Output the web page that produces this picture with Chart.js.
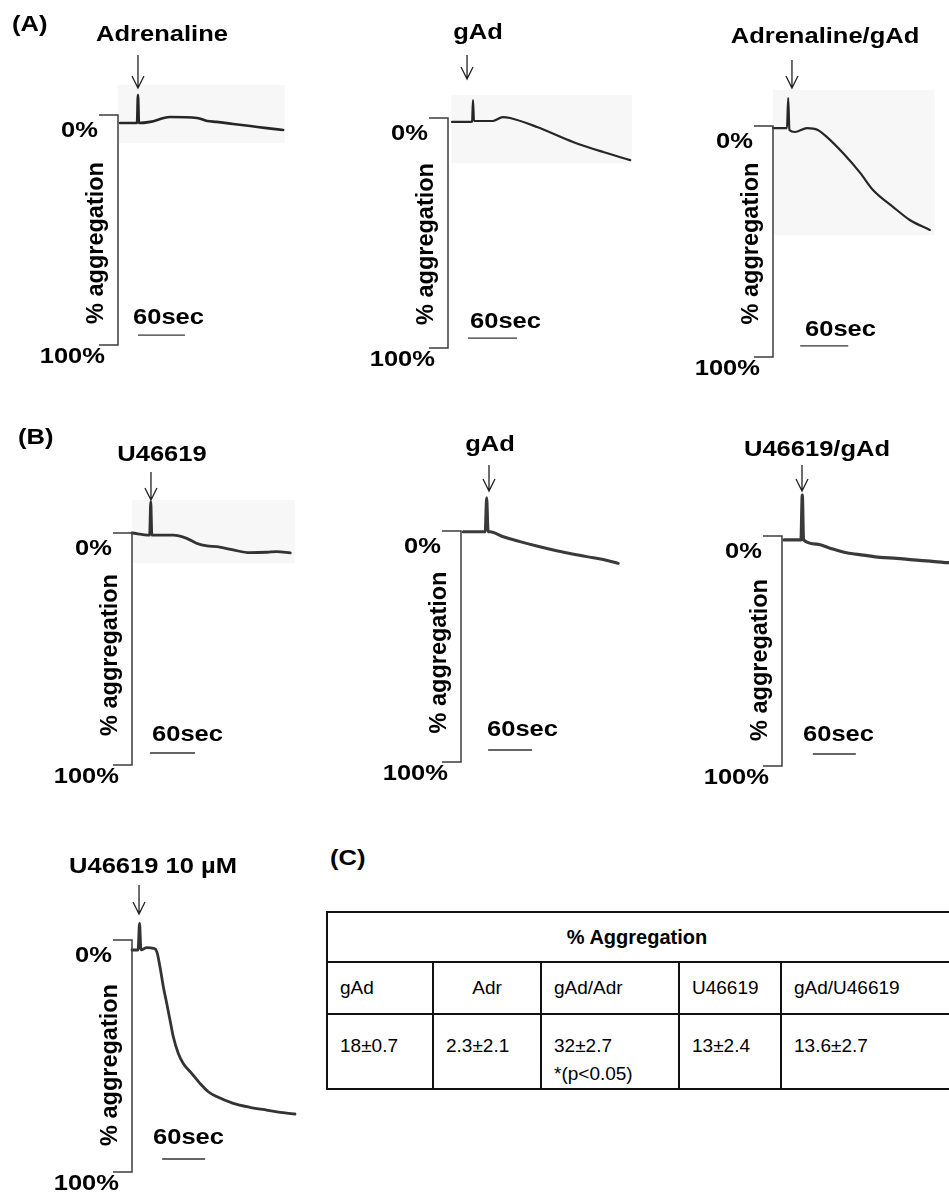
<!DOCTYPE html>
<html>
<head>
<meta charset="utf-8">
<script src="https://cdn.jsdelivr.net/npm/chart.js@4/dist/chart.umd.min.js"></script>
<style>
  html, body { margin: 0; padding: 0; background: #fff; }
  #page { position: relative; width: 949px; height: 1196px; overflow: hidden;
          font-family: "Liberation Sans", Arial, sans-serif; color: #000; }
  canvas.layer { position: absolute; left: 0; top: 0; }
  #tagC { position: absolute; left: 330px; top: 845px; font-weight: bold; font-size: 22px;
          transform: scaleX(1.16); transform-origin: left center; }
  #aggTable { position: absolute; left: 326px; top: 911px; width: 640px; border-collapse: collapse;
              table-layout: fixed; font-size: 19px; }
  #aggTable td, #aggTable th { border: 2px solid #111; padding: 0 0 0 12px; text-align: left;
                               white-space: nowrap; overflow: hidden; }
  #aggTable th { font-weight: bold; font-size: 20px; text-align: center; height: 48px; padding: 0 20px 0 0; }
  #aggTable tr.heads td { height: 50px; vertical-align: middle; }
  #aggTable tr.vals td { height: 55px; vertical-align: top; padding-top: 17px; line-height: 28px; }
  #aggTable td.centered { text-align: center; padding-left: 0; }
</style>
</head>
<body>
<div id="page">
  <div id="tagC">(C)</div>
  <table id="aggTable">
    <colgroup>
      <col style="width:106px"><col style="width:108px"><col style="width:138px"><col style="width:102px"><col style="width:186px">
    </colgroup>
    <tr><th colspan="5" id="aggTitle"></th></tr>
    <tr class="heads" id="headRow"></tr>
    <tr class="vals" id="valRow"></tr>
  </table>
  <canvas class="layer" id="cA1" width="949" height="1196"></canvas>
  <canvas class="layer" id="cA2" width="949" height="1196"></canvas>
  <canvas class="layer" id="cA3" width="949" height="1196"></canvas>
  <canvas class="layer" id="cB1" width="949" height="1196"></canvas>
  <canvas class="layer" id="cB2" width="949" height="1196"></canvas>
  <canvas class="layer" id="cB3" width="949" height="1196"></canvas>
  <canvas class="layer" id="cB4" width="949" height="1196"></canvas>
</div>
<script>
// Aggregation traces: time after start of recording (s) and % aggregation (0 = baseline, 100 = full)
const adrenalineTime = [2.6, 23, 24.3, 25.5, 26.8, 41, 66, 101, 114, 126, 147, 169, 190, 211];
const adrenalineAgg  = [3.5, 3.5, 3.5, -8.7, 3.5, 3.0, 0.9, 1.3, 2.6, 3.0, 3.9, 4.8, 5.7, 6.5];

const gadATime = [4.9, 28, 29.5, 30.6, 31.8, 55, 67, 76, 109, 153, 190, 223];
const gadAAgg  = [1.7, 1.7, 1.5, -7.8, 1.3, 1.3, -0.4, 0, 3.9, 10.4, 14.8, 18.3];

const adrGadTime = [0, 16, 17.5, 19, 20.5, 27.5, 42.5, 56, 67.5, 87.5, 109, 125, 150, 171, 196];
const adrGadAgg  = [0.9, 0.9, 0.9, -12.1, 1.7, 2.6, 0.9, 1.7, 4.8, 11.7, 20.3, 27.7, 35, 40.7, 45];

const u46619Time = [0, 23.5, 25, 26.5, 55, 73, 86, 100, 113, 135, 157, 180, 193, 211];
const u46619Agg  = [0, 0.9, -13.5, 0.9, 0.9, 2.3, 4.4, 5.6, 5.9, 7.3, 8.5, 8.3, 8.0, 8.6];

const gadBTime = [3.1, 33, 35, 37, 39.6, 57.7, 80.5, 103.3, 126, 148.7, 171.5, 194, 214.6];
const gadBAgg  = [0.3, 0.3, -14.4, 0.3, 0.3, 2.5, 4.6, 6.5, 8.2, 9.7, 11.1, 12.3, 14];

const u46619GadTime = [2.8, 26.5, 28.3, 30, 48.4, 67, 90.2, 113.4, 136.7, 160, 183, 206.4, 232, 255];
const u46619GadAgg  = [1.7, 1.7, -17.8, 1.7, 3.5, 5.3, 7.3, 8.3, 9.3, 9.7, 10.4, 10.9, 11.6, 12.2];

const u46619HighTime = [0, 8.5, 10.5, 12.5, 20.7, 29.9, 34.6, 39, 43.7, 48.4, 53, 57.6, 64.6, 71.5, 83.2, 94.8, 106.4, 118, 141.2, 164.5, 187.7, 211, 227.3];
const u46619HighAgg  = [4.3, 4.3, -7.2, 4.2, 3.3, 3.6, 5, 11.5, 20.1, 27.3, 34.5, 41.7, 48.9, 53.2, 57.5, 61.8, 65.4, 67.5, 70.4, 72.1, 73.3, 74.4, 75];

// Axis and scale-bar labels
const axisTickLabels = ['0%', '100%'];
const axisTitle = '% aggregation';
const scaleBarSeconds = 60;
const scaleBarLabel = '60sec';

// Summary table (C)
const tableTitle = '% Aggregation';
const tableGroups = ['gAd', 'Adr', 'gAd/Adr', 'U46619', 'gAd/U46619'];
const tableValues = ['18±0.7', '2.3±2.1', '32±2.7', '13±2.4', '13.6±2.7'];
const tableNotes  = ['', '', '*(p<0.05)', '', ''];

// ---- table ----
document.getElementById('aggTitle').textContent = tableTitle;
const headRow = document.getElementById('headRow');
const valRow = document.getElementById('valRow');
tableGroups.forEach((g, i) => {
  const th = document.createElement('td');
  th.textContent = g;
  if (g === 'Adr') th.className = 'centered';
  headRow.appendChild(th);
  const td = document.createElement('td');
  td.textContent = tableValues[i];
  if (tableNotes[i]) { td.appendChild(document.createElement('br')); td.appendChild(document.createTextNode(tableNotes[i])); }
  valRow.appendChild(td);
});

// ---- traces ----
const FONT_FAMILY = '"Liberation Sans", Arial, sans-serif';
const LABEL_FONT = 'bold 22px ' + FONT_FAMILY;
const TITLE_FONT = 'bold 23.5px ' + FONT_FAMILY;
const SX = 1.16;   // the figure's lettering is slightly wide

function drawText(ctx, text, x, y, align, font, sx) {
  ctx.save();
  ctx.font = font;
  ctx.fillStyle = '#000';
  ctx.textAlign = align;
  ctx.textBaseline = 'middle';
  ctx.translate(x, y);
  ctx.scale(sx, 1);
  ctx.fillText(text, 0, 0);
  ctx.restore();
}

const panels = [
  { canvas: 'cA1', label: 'Adrenaline', time: adrenalineTime, agg: adrenalineAgg,
    left: 118, top: 115, bottom: 345, pxPerSec: 0.783, tMax: 215,
    labelX: 162, labelY: 35, arrowT: 25.5, arrowTop: 55, arrowBottom: 88,
    secX: 133, secY: 318, barT: 25.5, barAgg: 95.7, titleShift: 13,
    shade: [0, 213, -13, 12.2], width: 2.6, color: '#262626', tag: ['(A)', 12, 25] },
  { canvas: 'cA2', label: 'gAd', time: gadATime, agg: gadAAgg,
    left: 448, top: 118, bottom: 348, pxPerSec: 0.817, tMax: 225,
    labelX: 478, labelY: 33, arrowT: 23.3, arrowTop: 55, arrowBottom: 79,
    secX: 470, secY: 322, barT: 24.5, barAgg: 95.7, titleShift: 11,
    shade: [4, 225, -10, 19.6], width: 2.2, color: '#262626' },
  { canvas: 'cA3', label: 'Adrenaline/gAd', time: adrGadTime, agg: adrGadAgg,
    left: 773, top: 126, bottom: 357, pxPerSec: 0.8, tMax: 205,
    labelX: 825, labelY: 37, arrowT: 23.7, arrowTop: 60, arrowBottom: 88,
    secX: 805, secY: 330, barT: 34, barAgg: 95.2, titleShift: 2,
    shade: [0, 202, -15.6, 47.2], width: 2.2, color: '#262626' },
  { canvas: 'cB1', label: 'U46619', time: u46619Time, agg: u46619Agg,
    left: 132, top: 533, bottom: 765, pxPerSec: 0.75, tMax: 215,
    labelX: 162, labelY: 455, arrowT: 25.3, arrowTop: 472, arrowBottom: 500,
    secX: 152, secY: 735, barT: 24, barAgg: 94.8, titleShift: 6,
    shade: [0, 217, -14.2, 12.9], width: 2.8, color: '#333', tag: ['(B)', 18, 438] },
  { canvas: 'cB2', label: 'gAd', time: gadBTime, agg: gadBAgg,
    left: 461, top: 531, bottom: 762, pxPerSec: 0.733, tMax: 218,
    labelX: 490, labelY: 445, arrowT: 38.2, arrowTop: 465, arrowBottom: 491,
    secX: 487, secY: 730, barT: 37, barAgg: 94.8, titleShift: 6,
    width: 3, color: '#3a3a3a' },
  { canvas: 'cB3', label: 'U46619/gAd', time: u46619GadTime, agg: u46619GadAgg,
    left: 782, top: 536, bottom: 766, pxPerSec: 0.717, tMax: 232,
    labelX: 817, labelY: 450, arrowT: 27.9, arrowTop: 465, arrowBottom: 491,
    secX: 803, secY: 735, barT: 43, barAgg: 94.8, titleShift: 9,
    width: 3.2, color: '#3a3a3a' },
  { canvas: 'cB4', label: 'U46619 10 µM', time: u46619HighTime, agg: u46619HighAgg,
    left: 132, top: 940, bottom: 1172, pxPerSec: 0.717, tMax: 230,
    labelX: 153, labelY: 867, arrowT: 9.8, arrowTop: 885, arrowBottom: 914,
    secX: 153, secY: 1138, barT: 42, barAgg: 94.4, titleShift: 9,
    width: 2.8, color: '#333' }
];

function decorPlugin(p) {
  return {
    id: 'panelDecor',
    beforeDatasetsDraw(chart) {
      if (!p.shade) return;
      const xs = chart.scales.x, ys = chart.scales.y, ctx = chart.ctx;
      const [t0, t1, v0, v1] = p.shade;
      const x0 = xs.getPixelForValue(t0), x1 = xs.getPixelForValue(t1);
      const y0 = ys.getPixelForValue(v0), y1 = ys.getPixelForValue(v1);
      ctx.save();
      ctx.fillStyle = '#f7f7f7';
      ctx.fillRect(x0, y0, x1 - x0, y1 - y0);
      ctx.restore();
    },
    afterDraw(chart) {
      const xs = chart.scales.x, ys = chart.scales.y, ctx = chart.ctx;
      const bx = xs.getPixelForValue(0);
      const y0 = ys.getPixelForValue(0), y1 = ys.getPixelForValue(100);

      // bracket-shaped aggregation axis
      ctx.save();
      ctx.strokeStyle = '#3c3c3c';
      ctx.lineWidth = 1.5;
      ctx.beginPath();
      ctx.moveTo(bx - 19, y0); ctx.lineTo(bx, y0); ctx.lineTo(bx, y1); ctx.lineTo(bx - 19, y1);
      ctx.stroke();
      ctx.restore();
      drawText(ctx, axisTickLabels[0], bx - 20, y0 + 16, 'right', LABEL_FONT, SX);
      drawText(ctx, axisTickLabels[1], bx - 13, y1 + 12, 'right', LABEL_FONT, SX);

      // rotated axis title
      ctx.save();
      ctx.translate(bx - 21, (y0 + y1) / 2 + p.titleShift);
      ctx.rotate(-Math.PI / 2);
      ctx.font = TITLE_FONT;
      ctx.fillStyle = '#000';
      ctx.textAlign = 'center';
      ctx.textBaseline = 'middle';
      ctx.fillText(axisTitle, 0, 0);
      ctx.restore();

      // time scale bar
      const sb0 = xs.getPixelForValue(p.barT), sb1 = xs.getPixelForValue(p.barT + scaleBarSeconds);
      const sby = ys.getPixelForValue(p.barAgg);
      ctx.save();
      ctx.strokeStyle = '#333';
      ctx.lineWidth = 1.4;
      ctx.beginPath(); ctx.moveTo(sb0, sby); ctx.lineTo(sb1, sby); ctx.stroke();
      ctx.restore();
      drawText(ctx, scaleBarLabel, p.secX, p.secY, 'left', LABEL_FONT, SX);

      // agonist addition arrow
      const ax = xs.getPixelForValue(p.arrowT);
      ctx.save();
      ctx.strokeStyle = '#222';
      ctx.lineWidth = 1.3;
      ctx.beginPath();
      ctx.moveTo(ax, p.arrowTop); ctx.lineTo(ax, p.arrowBottom);
      ctx.moveTo(ax - 6, p.arrowBottom - 12); ctx.lineTo(ax, p.arrowBottom); ctx.lineTo(ax + 6, p.arrowBottom - 12);
      ctx.stroke();
      ctx.restore();
      drawText(ctx, p.label, p.labelX, p.labelY, 'center', LABEL_FONT, SX);

      if (p.tag) drawText(ctx, p.tag[0], p.tag[1], p.tag[2], 'left', LABEL_FONT, SX);
    }
  };
}

panels.forEach(p => {
  const right = p.left + p.tMax * p.pxPerSec;
  new Chart(document.getElementById(p.canvas), {
    type: 'scatter',
    data: {
      datasets: [{
        data: p.time.map((t, i) => ({ x: t, y: p.agg[i] })),
        showLine: true,
        borderColor: p.color,
        borderWidth: p.width,
        pointRadius: 0,
        cubicInterpolationMode: 'monotone',
        borderJoinStyle: 'round',
        borderCapStyle: 'round',
        clip: false
      }]
    },
    options: {
      responsive: false,
      animation: false,
      events: [],
      layout: { padding: { left: p.left, top: p.top, right: 949 - right, bottom: 1196 - p.bottom } },
      scales: {
        x: { type: 'linear', min: 0, max: p.tMax, display: false },
        y: { type: 'linear', min: 0, max: 100, reverse: true, display: false }
      },
      plugins: { legend: { display: false }, tooltip: { enabled: false } }
    },
    plugins: [decorPlugin(p)]
  });
});
</script>
</body>
</html>
